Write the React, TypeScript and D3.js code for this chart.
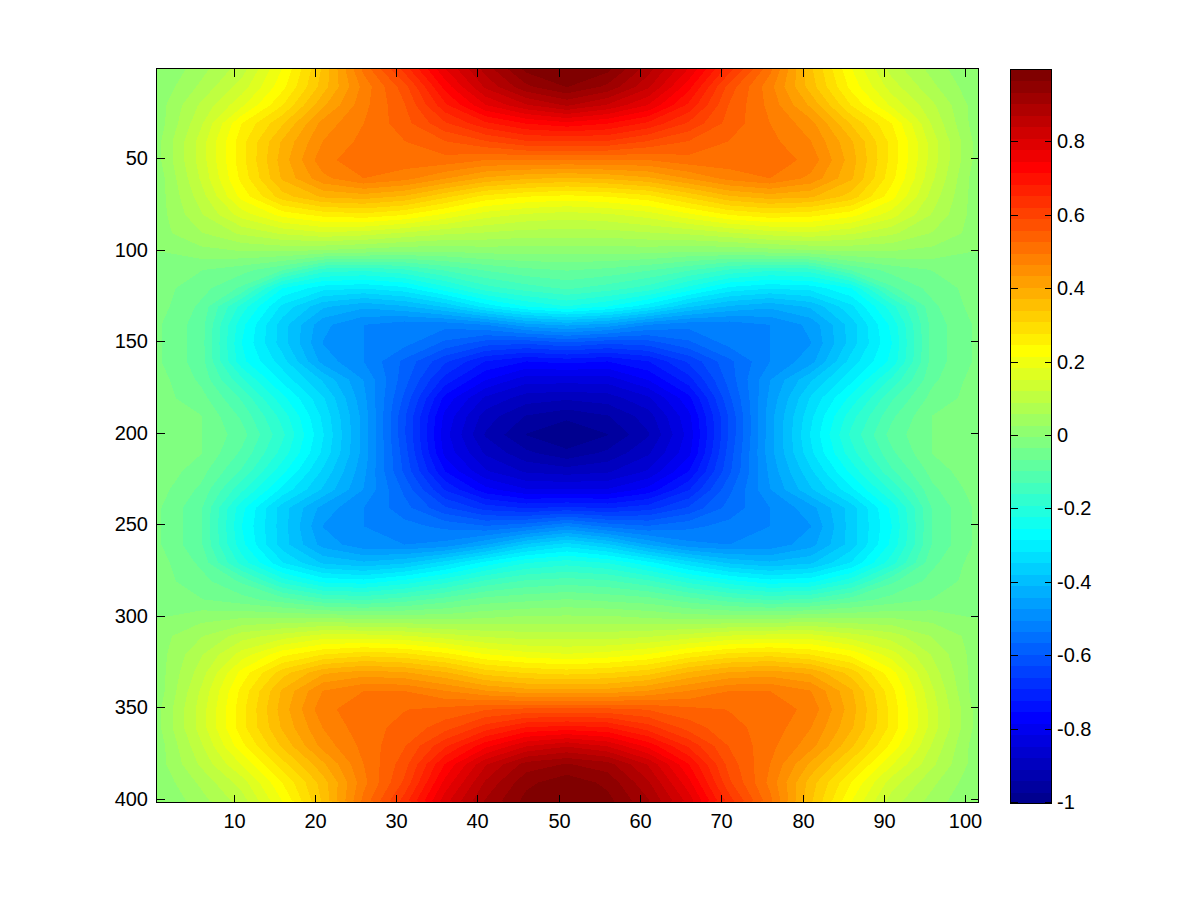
import React from "react";
import * as d3 from "d3";

// Sample positions of the values
const xSamples = d3.range(1, 102, 5);
const ySamples = d3.range(1, 402, 10);

// Field values (one row per y sample, one value per x sample)
const row001 = [0,.05,.11,.22,.35,.51,.64,.78,.89,.98,1,.98,.89,.78,.64,.51,.35,.22,.11,.05,0];
const row011 = [.01,.07,.14,.24,.36,.48,.58,.73,.85,.93,.97,.93,.85,.73,.58,.48,.36,.24,.14,.07,.01];
const row021 = [.02,.1,.18,.28,.4,.49,.56,.68,.78,.84,.88,.84,.78,.68,.56,.49,.4,.28,.18,.1,.02];
const row031 = [.02,.12,.25,.34,.45,.5,.55,.62,.68,.72,.74,.72,.68,.62,.55,.5,.45,.34,.25,.12,.02];
const row041 = [.03,.14,.27,.38,.47,.51,.53,.56,.59,.62,.62,.62,.59,.56,.53,.51,.47,.38,.27,.14,.03];
const row051 = [.03,.14,.27,.39,.49,.52,.52,.52,.5,.5,.5,.5,.5,.52,.52,.52,.49,.39,.27,.14,.03];
const row061 = [.02,.13,.26,.38,.46,.5,.48,.44,.4,.38,.37,.38,.4,.44,.48,.5,.46,.38,.26,.13,.02];
const row071 = [.02,.11,.23,.33,.38,.39,.37,.32,.27,.25,.24,.25,.27,.32,.37,.39,.38,.33,.23,.11,.02];
const row081 = [.02,.09,.17,.23,.26,.27,.25,.21,.17,.15,.14,.15,.17,.21,.25,.27,.26,.23,.17,.09,.02];
const row091 = [.02,.06,.1,.13,.15,.14,.12,.1,.09,.08,.08,.08,.09,.1,.12,.14,.15,.13,.1,.06,.02];
const row101 = [0,.02,.03,.03,.02,.01,0,0,.01,.01,.01,.01,.01,0,0,.01,.02,.03,.03,.02,0];
const row111 = [-.01,-.03,-.05,-.09,-.17,-.18,-.16,-.12,-.09,-.07,-.06,-.07,-.09,-.12,-.16,-.18,-.17,-.09,-.05,-.03,-.01];
const row121 = [-.02,-.05,-.1,-.25,-.3,-.31,-.29,-.23,-.17,-.14,-.12,-.14,-.17,-.23,-.29,-.31,-.3,-.25,-.1,-.05,-.02];
const row131 = [-.02,-.07,-.2,-.32,-.4,-.43,-.41,-.37,-.3,-.25,-.22,-.25,-.3,-.37,-.41,-.43,-.4,-.32,-.2,-.07,-.02];
const row141 = [-.03,-.08,-.24,-.36,-.46,-.5,-.52,-.52,-.5,-.45,-.43,-.45,-.5,-.52,-.52,-.5,-.46,-.36,-.24,-.08,-.03];
const row151 = [-.03,-.08,-.25,-.36,-.47,-.5,-.52,-.57,-.61,-.62,-.6,-.62,-.61,-.57,-.52,-.5,-.47,-.36,-.25,-.08,-.03];
const row161 = [-.03,-.08,-.24,-.33,-.45,-.5,-.57,-.65,-.72,-.75,-.74,-.75,-.72,-.65,-.57,-.5,-.45,-.33,-.24,-.08,-.03];
const row171 = [-.02,-.07,-.18,-.29,-.38,-.47,-.58,-.7,-.78,-.83,-.83,-.83,-.78,-.7,-.58,-.47,-.38,-.29,-.18,-.07,-.02];
const row181 = [-.02,-.05,-.13,-.24,-.34,-.46,-.6,-.76,-.85,-.89,-.9,-.89,-.85,-.76,-.6,-.46,-.34,-.24,-.13,-.05,-.02];
const row191 = [-.01,-.03,-.1,-.2,-.32,-.45,-.62,-.79,-.89,-.94,-.96,-.94,-.89,-.79,-.62,-.45,-.32,-.2,-.1,-.03,-.01];
const row201 = [-.01,-.03,-.08,-.18,-.31,-.45,-.62,-.8,-.91,-.97,-1,-.97,-.91,-.8,-.62,-.45,-.31,-.18,-.08,-.03,-.01];
const row211 = [-.01,-.03,-.1,-.2,-.32,-.45,-.61,-.79,-.88,-.93,-.96,-.93,-.88,-.79,-.61,-.45,-.32,-.2,-.1,-.03,-.01];
const row221 = [-.01,-.05,-.13,-.24,-.35,-.46,-.6,-.75,-.84,-.88,-.89,-.88,-.84,-.75,-.6,-.46,-.35,-.24,-.13,-.05,-.01];
const row231 = [-.02,-.07,-.18,-.29,-.38,-.47,-.57,-.69,-.77,-.81,-.81,-.81,-.77,-.69,-.57,-.47,-.38,-.29,-.18,-.07,-.02];
const row241 = [-.03,-.09,-.24,-.36,-.45,-.5,-.55,-.62,-.67,-.69,-.68,-.69,-.67,-.62,-.55,-.5,-.45,-.36,-.24,-.09,-.03];
const row251 = [-.03,-.09,-.25,-.36,-.47,-.5,-.52,-.54,-.56,-.54,-.5,-.54,-.56,-.54,-.52,-.5,-.47,-.36,-.25,-.09,-.03];
const row261 = [-.03,-.09,-.24,-.36,-.45,-.49,-.5,-.49,-.44,-.37,-.33,-.37,-.44,-.49,-.5,-.49,-.45,-.36,-.24,-.09,-.03];
const row271 = [-.02,-.07,-.2,-.31,-.38,-.4,-.38,-.33,-.27,-.22,-.2,-.22,-.27,-.33,-.38,-.4,-.38,-.31,-.2,-.07,-.02];
const row281 = [-.02,-.05,-.1,-.2,-.26,-.27,-.24,-.2,-.15,-.12,-.11,-.12,-.15,-.2,-.24,-.27,-.26,-.2,-.1,-.05,-.02];
const row291 = [-.01,-.03,-.05,-.08,-.12,-.13,-.11,-.08,-.05,-.04,-.03,-.04,-.05,-.08,-.11,-.13,-.12,-.08,-.05,-.03,-.01];
const row301 = [0,.02,.03,.03,.03,.02,.02,.02,.03,.04,.04,.04,.03,.02,.02,.02,.03,.03,.03,.02,0];
const row311 = [.02,.06,.11,.14,.17,.17,.16,.14,.12,.11,.11,.11,.12,.14,.16,.17,.17,.14,.11,.06,.02];
const row321 = [.02,.09,.17,.24,.28,.3,.29,.26,.22,.2,.19,.2,.22,.26,.29,.3,.28,.24,.17,.09,.02];
const row331 = [.02,.11,.23,.33,.4,.42,.41,.38,.33,.31,.3,.31,.33,.38,.41,.42,.4,.33,.23,.11,.02];
const row341 = [.02,.13,.26,.38,.47,.5,.5,.47,.44,.42,.42,.42,.44,.47,.5,.5,.47,.38,.26,.13,.02];
const row351 = [.03,.14,.27,.39,.49,.52,.53,.54,.56,.57,.57,.57,.56,.54,.53,.52,.49,.39,.27,.14,.03];
const row361 = [.03,.14,.27,.38,.47,.52,.54,.58,.64,.69,.7,.69,.64,.58,.54,.52,.47,.38,.27,.14,.03];
const row371 = [.02,.12,.24,.35,.45,.51,.56,.65,.74,.81,.84,.81,.74,.65,.56,.51,.45,.35,.24,.12,.02];
const row381 = [.02,.1,.19,.3,.4,.5,.58,.72,.84,.92,.94,.92,.84,.72,.58,.5,.4,.3,.19,.1,.02];
const row391 = [.01,.07,.14,.25,.36,.49,.6,.76,.88,.96,.99,.96,.88,.76,.6,.49,.36,.25,.14,.07,.01];
const row401 = [0,.05,.11,.22,.35,.51,.64,.8,.91,.98,1,.98,.91,.8,.64,.51,.35,.22,.11,.05,0];

const fieldRows = [
  row001,row011,row021,row031,row041,row051,row061,row071,row081,row091,
  row101,row111,row121,row131,row141,row151,row161,row171,row181,row191,
  row201,row211,row221,row231,row241,row251,row261,row271,row281,row291,
  row301,row311,row321,row331,row341,row351,row361,row371,row381,row391,row401,
];

const xTicks = [10,20,30,40,50,60,70,80,90,100];
const yTicks = [50,100,150,200,250,300,350,400];
const barTicks = [-1,-0.8,-0.6,-0.4,-0.2,0,0.2,0.4,0.6,0.8];

const LEVELS = 64;
const clamp01 = (v: number) => Math.max(0, Math.min(1, v));
function jet(k: number) {
  const v = (k + 1) / LEVELS;
  const r = clamp01(Math.min(4 * v - 1.5, -4 * v + 4.5));
  const g = clamp01(Math.min(4 * v - 0.5, -4 * v + 3.5));
  const b = clamp01(Math.min(4 * v + 0.5, -4 * v + 2.5));
  return d3.rgb(r * 255, g * 255, b * 255).formatHex();
}

const W = 1200, H = 901;
const plot = { l: 156.5, t: 68.5, r: 978.5, b: 802.5 };
const bar = { l: 1010.5, t: 69.5, r: 1051.5, b: 803.5 };
const FONT = "'Liberation Sans', Arial, sans-serif";
const FS = 20;

export default function App() {
  const xScale = d3.scaleLinear().domain([0.5, 101.65]).range([plot.l, plot.r]);
  const yScale = d3.scaleLinear().domain([1, 401.9]).range([plot.t, plot.b]);
  const barScale = d3.scaleLinear().domain([-1, 1]).range([bar.b - 0.5, bar.t - 0.5]);

  const nx = xSamples.length, ny = ySamples.length;
  const dx = xSamples[1] - xSamples[0], dy = ySamples[1] - ySamples[0];
  const flat = fieldRows.flat();
  const thresholds = d3.range(1, LEVELS).map((k) => -1 + (k * 2) / LEVELS);
  const bands = d3.contours().size([nx, ny]).thresholds(thresholds)(flat);
  const proj = d3.geoTransform({
    point(this: any, c: number, r: number) {
      this.stream.point(
        xScale(xSamples[0] + dx * (c - 0.5)),
        yScale(ySamples[0] + dy * (r - 0.5))
      );
    },
  });
  const path = d3.geoPath(proj);

  const text = { fontFamily: FONT, fontSize: FS, fill: "#000" } as const;
  const tick = { stroke: "#000", strokeWidth: 1, shapeRendering: "crispEdges" } as const;
  const bandH = (bar.b - bar.t) / LEVELS;

  return (
    <svg width={W} height={H} style={{ position: "absolute", left: 0, top: 0, background: "#fff" }}>
      <defs>
        <clipPath id="plotClip">
          <rect x={plot.l} y={plot.t} width={plot.r - plot.l} height={plot.b - plot.t} />
        </clipPath>
      </defs>
      <g clipPath="url(#plotClip)" shapeRendering="crispEdges">
        <rect x={plot.l} y={plot.t} width={plot.r - plot.l} height={plot.b - plot.t} fill={jet(0)} />
        {bands.map((b, i) => (
          <path key={i} d={path(b as any) ?? ""} fill={jet(i + 1)} />
        ))}
      </g>
      <rect x={plot.l} y={plot.t} width={plot.r - plot.l} height={plot.b - plot.t} fill="none" {...tick} />
      {xTicks.map((t) => {
        const x = Math.round(xScale(t)) + 0.5;
        return (
          <g key={t}>
            <line x1={x} x2={x} y1={plot.b} y2={plot.b - 8} {...tick} />
            <line x1={x} x2={x} y1={plot.t} y2={plot.t + 8} {...tick} />
            <text x={x} y={828} textAnchor="middle" {...text}>{t}</text>
          </g>
        );
      })}
      {yTicks.map((t) => {
        const y = Math.round(yScale(t)) + 0.5;
        return (
          <g key={t}>
            <line x1={plot.l} x2={plot.l + 8} y1={y} y2={y} {...tick} />
            <line x1={plot.r} x2={plot.r - 8} y1={y} y2={y} {...tick} />
            <text x={148} y={y + 6} textAnchor="end" {...text}>{t}</text>
          </g>
        );
      })}
      <g shapeRendering="crispEdges">
        {d3.range(LEVELS).map((k) => (
          <rect key={k} x={bar.l} width={bar.r - bar.l}
            y={bar.b - (k + 1) * bandH} height={bandH + 0.5} fill={jet(k)} />
        ))}
      </g>
      <rect x={bar.l} y={bar.t} width={bar.r - bar.l} height={bar.b - bar.t} fill="none" {...tick} />
      {barTicks.map((t) => {
        const y = Math.round(barScale(t)) - 0.5;
        return (
          <g key={t}>
            <line x1={bar.l} x2={bar.l + 7} y1={y} y2={y} {...tick} />
            <line x1={bar.r} x2={bar.r - 7} y1={y} y2={y} {...tick} />
            <text x={1057} y={y + 6.5} {...text}>{t}</text>
          </g>
        );
      })}
    </svg>
  );
}
